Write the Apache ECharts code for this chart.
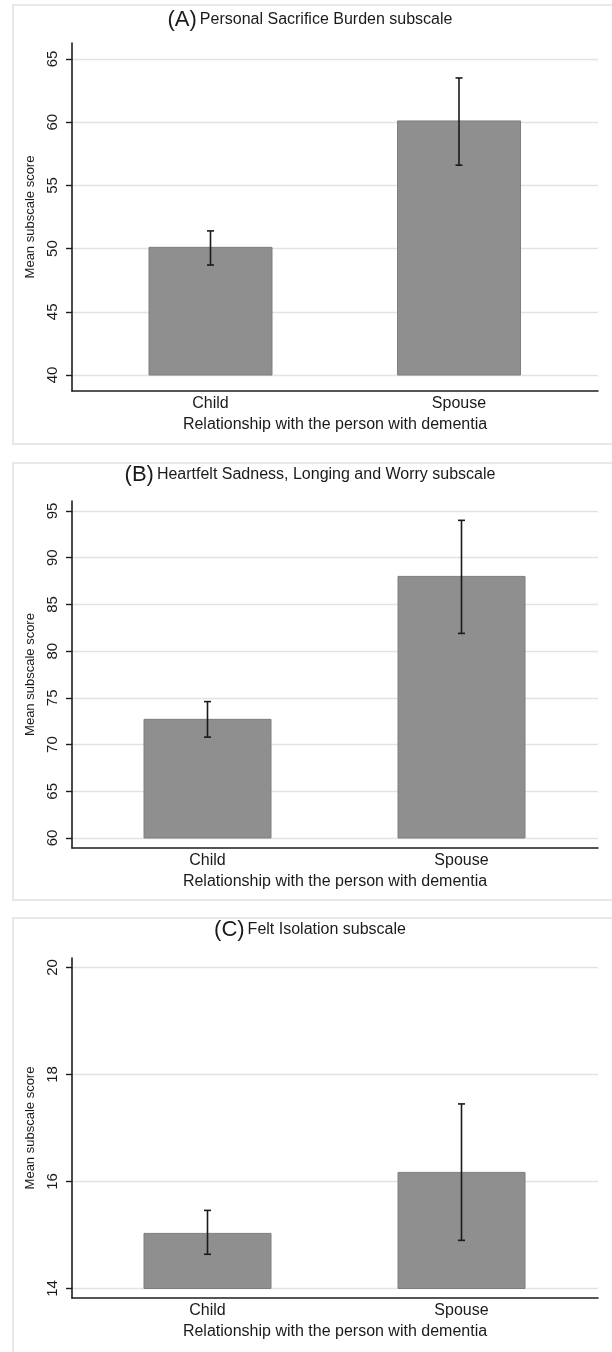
<!DOCTYPE html>
<html>
<head>
<meta charset="utf-8">
<script src="https://cdn.jsdelivr.net/npm/echarts@6/dist/echarts.min.js"></script>
<style>
html,body{margin:0;padding:0;background:#fff;}
#main{width:612px;height:1352px;}
</style>
</head>
<body>
<div id="main"></div>
<script>
// ---- data ----
const categories = ['Child', 'Spouse'];
const panelLetters = ['(A)', '(B)', '(C)'];
const panelTitles = ['Personal Sacrifice Burden subscale', 'Heartfelt Sadness, Longing and Worry subscale', 'Felt Isolation subscale'];
const yAxisTitle = 'Mean subscale score';
const xAxisTitle = 'Relationship with the person with dementia';

const meanA = [50.1, 60.1];
const lowA = [48.7, 56.6];
const highA = [51.4, 63.5];
const ticksA = [40, 45, 50, 55, 60, 65];

const meanB = [72.7, 88.0];
const lowB = [70.8, 81.9];
const highB = [74.6, 94.0];
const ticksB = [60, 65, 70, 75, 80, 85, 90, 95];

const meanC = [15.03, 16.17];
const lowC = [14.64, 14.90];
const highC = [15.46, 17.45];
const ticksC = [14, 16, 18, 20];

// ---- layout (pixels) ----
const panels = [
  {mean: meanA, low: lowA, high: highA, ticks: ticksA, top: 43, bottom: 391, pad: 16, c1: 210.5, c2: 459, barW: 123, boxTop: 5, boxBottom: 444, titleY: 20},
  {mean: meanB, low: lowB, high: highB, ticks: ticksB, top: 501, bottom: 848, pad: 10, c1: 207.5, c2: 461.5, barW: 127, boxTop: 463, boxBottom: 900, titleY: 475},
  {mean: meanC, low: lowC, high: highC, ticks: ticksC, top: 958, bottom: 1298, pad: 9.5, c1: 207.5, c2: 461.5, barW: 127, boxTop: 918, boxBottom: 1370, titleY: 930}
];
const plotLeft = 72, plotRight = 598;
const textColor = '#1a1a1a';
const fontFamily = '"Liberation Sans", Arial, sans-serif';

const grids = [], xAxes = [], yAxes = [], series = [], graphics = [];

panels.forEach((p, i) => {
  const tMin = p.ticks[0], tMax = p.ticks[p.ticks.length - 1];
  const h = p.bottom - p.top;
  const ppu = (h - 2 * p.pad) / (tMax - tMin);
  const yMin = tMin - p.pad / ppu;
  const yMax = tMax + p.pad / ppu;
  const spacing = p.c2 - p.c1;
  const xMin = 1 - (p.c1 - plotLeft) / spacing;
  const xMax = 2 + (plotRight - p.c2) / spacing;

  grids.push({left: plotLeft, right: 612 - plotRight, top: p.top, height: h, containLabel: false});

  xAxes.push({
    type: 'value', gridIndex: i, min: xMin, max: xMax,
    axisLine: {show: true, onZero: false, lineStyle: {color: '#1e1e1e', width: 1.6}},
    axisTick: {show: false},
    splitLine: {show: false},
    axisLabel: {
      customValues: [1, 2], margin: 5, color: textColor, fontSize: 16, fontFamily: fontFamily,
      formatter: v => categories[Math.round(v) - 1] || ''
    },
    name: xAxisTitle, nameLocation: 'middle', nameGap: 26,
    nameTextStyle: {color: textColor, fontSize: 16, fontFamily: fontFamily}
  });

  yAxes.push({
    type: 'value', gridIndex: i, min: yMin, max: yMax,
    axisLine: {show: true, onZero: false, lineStyle: {color: '#1e1e1e', width: 1.6}},
    axisTick: {show: true, customValues: p.ticks, length: 6, lineStyle: {color: '#1e1e1e', width: 1.4}},
    splitLine: {show: true, lineStyle: {color: '#e3e3e3', width: 1.4}},
    axisLabel: {customValues: p.ticks, rotate: 90, margin: 12, color: textColor, fontSize: 15, fontFamily: fontFamily,
      formatter: v => String(v)},
    name: yAxisTitle, nameLocation: 'middle', nameGap: 33, nameRotate: 90,
    nameTextStyle: {color: textColor, fontSize: 13, fontFamily: fontFamily}
  });

  const data = categories.map((c, k) => [k + 1, p.mean[k], p.low[k], p.high[k], tMin]);
  const barW = p.barW;
  series.push({
    type: 'custom', xAxisIndex: i, yAxisIndex: i, clip: false,
    data: data,
    renderItem: (params, api) => {
      const x = api.value(0), m = api.value(1), lo = api.value(2), hi = api.value(3), base = api.value(4);
      const pb = api.coord([x, base]);
      const pm = api.coord([x, m]);
      const ph = api.coord([x, hi]);
      const pl = api.coord([x, lo]);
      const cap = 3.5;
      const eb = {stroke: '#1a1a1a', lineWidth: 1.6};
      return {
        type: 'group',
        children: [
          {type: 'rect', shape: {x: pm[0] - barW / 2, y: pm[1], width: barW, height: pb[1] - pm[1]},
            style: {fill: '#8f8f8f', stroke: '#7e7e7e', lineWidth: 1}},
          {type: 'line', shape: {x1: ph[0], y1: ph[1], x2: pl[0], y2: pl[1]}, style: eb},
          {type: 'line', shape: {x1: ph[0] - cap, y1: ph[1], x2: ph[0] + cap, y2: ph[1]}, style: eb},
          {type: 'line', shape: {x1: pl[0] - cap, y1: pl[1], x2: pl[0] + cap, y2: pl[1]}, style: eb}
        ]
      };
    }
  });

  graphics.push({
    type: 'rect', z: -10, silent: true,
    shape: {x: 13, y: p.boxTop, width: 640, height: p.boxBottom - p.boxTop},
    style: {fill: 'none', stroke: '#e8e8e8', lineWidth: 2}
  });
  graphics.push({
    type: 'text', x: 310, y: p.titleY, silent: true,
    style: {
      text: '{a|' + panelLetters[i] + '}{b|' + panelTitles[i] + '}',
      align: 'center', verticalAlign: 'middle',
      rich: {
        a: {fontSize: 22, fontFamily: fontFamily, fill: textColor, padding: [0, 3, 0, 0]},
        b: {fontSize: 16, fontFamily: fontFamily, fill: textColor}
      }
    }
  });
});

const chart = echarts.init(document.getElementById('main'), null, {renderer: 'canvas', width: 612, height: 1352});
chart.setOption({
  backgroundColor: '#ffffff',
  animation: false,
  grid: grids,
  xAxis: xAxes,
  yAxis: yAxes,
  series: series,
  graphic: graphics
});
</script>
</body>
</html>
